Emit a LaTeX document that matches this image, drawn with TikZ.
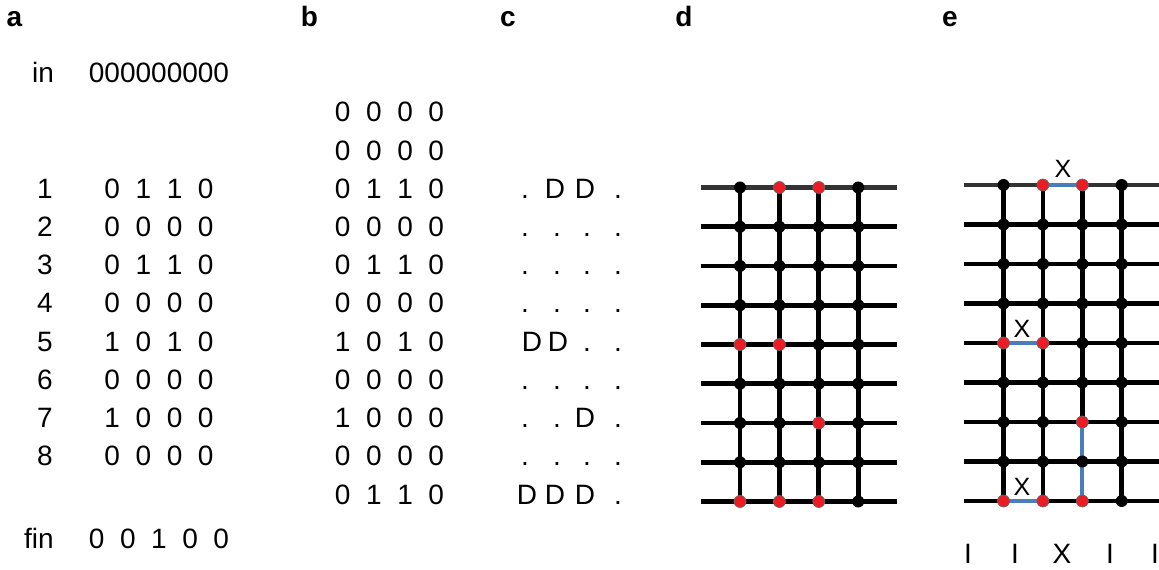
\documentclass[tikz,border=0pt]{standalone}
\usepackage{fontspec}
\setmainfont{Liberation Sans}

\definecolor{dotred}{RGB}{237,28,36}
\definecolor{linkblue}{RGB}{74,126,187}
\newcommand{\dgap}{\hspace{0.556em}}
\newcommand{\bits}[4]{#1\dgap#2\dgap#3\dgap#4}

\begin{document}
\begin{tikzpicture}[x=0.025cm,y=-0.025cm]
        \tikzset{txt/.style={anchor=base,inner sep=0pt,font=\fontsize{19.92}{24}\selectfont},
        small/.style={anchor=base,inner sep=0pt,font=\fontsize{17.8}{21}\selectfont},
        panel/.style={anchor=base,inner sep=0pt,font=\fontsize{19.92}{24}\selectfont\bfseries},
        wire/.style={line width=3.4pt},
        bluewire/.style={line width=2.7pt,linkblue},
        blk/.style={circle,fill=black,inner sep=0pt,minimum size=0.3cm},
        hot/.style={circle,fill=dotred,draw=black!60,line width=0.5pt,inner sep=0pt,minimum size=0.3cm}}
        \useasboundingbox (0,0) rectangle (1159,570);

        % panel letters
        \node[panel] (pa) at (14.5,27) {a};
        \node[panel] (pb) at (309.5,27) {b};
        \node[panel] (pc) at (508,27) {c};
        \node[panel] (pd) at (684,27) {d};
        \node[panel] (pe) at (950,27) {e};

        % a
        \node[txt] (in) at (43,83) {in};
        \node[txt] (inbits) at (159,83) {000000000};
        \foreach \k/\a/\b/\c/\d in {1/0/1/1/0,2/0/0/0/0,3/0/1/1/0,4/0/0/0/0,
                5/1/0/1/0,6/0/0/0/0,7/1/0/0/0,8/0/0/0/0} {
            \node[txt] (num\k) at (45,{122+38.2*(\k+1)}) {\k};
            \node[txt] (a\k) at (159,{122+38.2*(\k+1)}) {\bits\a\b\c\d};
        }
        \node[txt] (fin) at (39,548) {fin};
        \node[txt] (finbits) at (159,548) {0\dgap0\dgap1\dgap0\dgap0};

        % b
        \foreach \k/\a/\b/\c/\d in {0/0/0/0/0,1/0/0/0/0,2/0/1/1/0,3/0/0/0/0,
                4/0/1/1/0,5/0/0/0/0,6/1/0/1/0,7/0/0/0/0,8/1/0/0/0,9/0/0/0/0,10/0/1/1/0}
            \node[txt] (b\k) at (389.5,{122+38.2*\k}) {\bits\a\b\c\d};

        % c
        \foreach \k in {3,4,5,7,9}
            \foreach \x [count=\j] in {525,557,587,618}
                \node[txt] (c\k-\j) at (\x,{122+38.2*\k}) {.};
        \node[txt] (c2-1) at (525,198.4) {.};
        \node[txt] (c2-2) at (555,198.4) {D};
        \node[txt] (c2-3) at (585,198.4) {D};
        \node[txt] (c2-4) at (618,198.4) {.};
        \node[txt] (c6-1) at (532,351.2) {D};
        \node[txt] (c6-2) at (558,351.2) {D};
        \node[txt] (c6-3) at (587,351.2) {.};
        \node[txt] (c6-4) at (618,351.2) {.};
        \node[txt] (c8-1) at (525,427.6) {.};
        \node[txt] (c8-2) at (557,427.6) {.};
        \node[txt] (c8-3) at (585,427.6) {D};
        \node[txt] (c8-4) at (618,427.6) {.};
        \node[txt] (c10-1) at (527,504) {D};
        \node[txt] (c10-2) at (555,504) {D};
        \node[txt] (c10-3) at (585,504) {D};
        \node[txt] (c10-4) at (618,504) {.};

        % d
        \foreach \r in {1,...,9} {
            \coordinate (dL\r) at (701,{187.5+39.25*(\r-1)});
            \coordinate (dR\r) at (897,{187.5+39.25*(\r-1)});
            \foreach \c in {1,...,4}
                \coordinate (d\r\c) at ({740+39.4*(\c-1)},{187.5+39.25*(\r-1)});
        }
        \draw[wire,black!80] (dL1) -- (dR1);
        \foreach \r in {2,...,9} \draw[wire] (dL\r) -- (dR\r);
        \foreach \c in {1,...,4} \draw[wire] (d1\c) -- (d9\c);
        \foreach \r/\a/\b/\c/\d in {1/blk/hot/hot/blk,2/blk/blk/blk/blk,3/blk/blk/blk/blk,
                4/blk/blk/blk/blk,5/hot/hot/blk/blk,6/blk/blk/blk/blk,7/blk/blk/hot/blk,
                8/blk/blk/blk/blk,9/hot/hot/hot/blk} {
            \node[\a] (dn\r1) at (d\r1) {};
            \node[\b] (dn\r2) at (d\r2) {};
            \node[\c] (dn\r3) at (d\r3) {};
            \node[\d] (dn\r4) at (d\r4) {};
        }

        % e
        \foreach \r in {1,...,9} {
            \coordinate (eL\r) at (964,{185+39.5*(\r-1)});
            \coordinate (eR\r) at (1165,{185+39.5*(\r-1)});
            \foreach \c in {1,...,4}
                \coordinate (e\r\c) at ({1003.5+39.4*(\c-1)},{185+39.5*(\r-1)});
        }
        \draw[wire,black!80] (eL1) -- (e12) (e13) -- (eR1);
        \foreach \r in {2,3,4,6,7,8} \draw[wire] (eL\r) -- (eR\r);
        \draw[wire] (eL5) -- (e51) (e52) -- (eR5);
        \draw[wire] (eL9) -- (e91) (e92) -- (eR9);
        \foreach \c in {1,2,4} \draw[wire] (e1\c) -- (e9\c);
        \draw[wire] (e13) -- (e73);
        \draw[bluewire] (e12) -- (e13);
        \draw[bluewire] (e51) -- (e52);
        \draw[bluewire] (e91) -- (e92);
        \draw[bluewire] (e73) -- (e93);
        \foreach \r/\a/\b/\c/\d in {1/blk/hot/hot/blk,2/blk/blk/blk/blk,3/blk/blk/blk/blk,
                4/blk/blk/blk/blk,5/hot/hot/blk/blk,6/blk/blk/blk/blk,7/blk/blk/hot/blk,
                8/blk/blk/blk/blk,9/hot/hot/hot/blk} {
            \node[\a] (en\r1) at (e\r1) {};
            \node[\b] (en\r2) at (e\r2) {};
            \node[\c] (en\r3) at (e\r3) {};
            \node[\d] (en\r4) at (e\r4) {};
        }
        \node[small] (x1) at (1063,178) {X};
        \node[small] (x5) at (1022,338) {X};
        \node[small] (x9) at (1022,495) {X};

        % bottom row of e
        \node[txt] (o1) at (968,563) {I};
        \node[txt] (o2) at (1015,563) {I};
        \node[txt] (o3) at (1062,563) {X};
        \node[txt] (o4) at (1110,563) {I};
        \node[txt] (o5) at (1155,563) {I};
    \end{tikzpicture}
\end{document}
